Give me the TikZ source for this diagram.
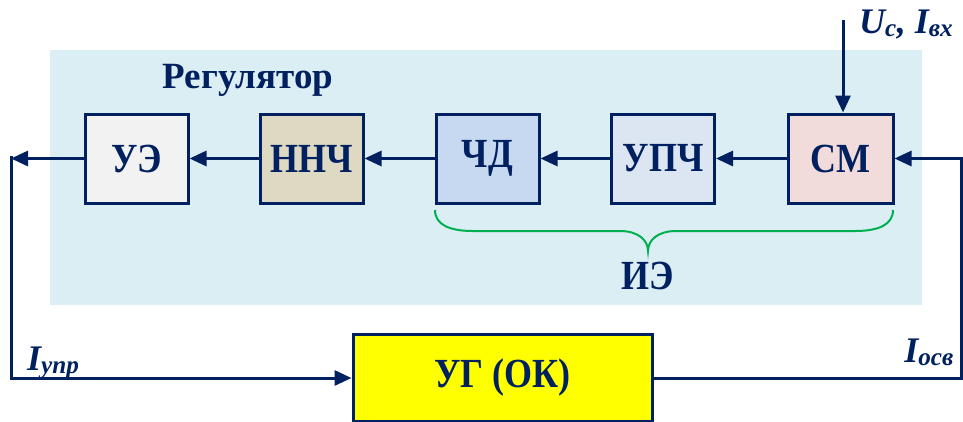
\documentclass[tikz,border=0pt]{standalone}
\usepackage{fontspec}
\usepackage{graphicx}
\setmainfont{Liberation Serif}
\usetikzlibrary{arrows.meta}
\definecolor{navy}{HTML}{002060}
\definecolor{panel}{HTML}{DAEEF3}
\definecolor{fue}{HTML}{F2F2F2}
\definecolor{fnn}{HTML}{DDD9C3}
\definecolor{fchd}{HTML}{C6D9F1}
\definecolor{fupch}{HTML}{DCE6F2}
\definecolor{fsm}{HTML}{F2DCDB}
\definecolor{fug}{HTML}{FFFF00}
\definecolor{brgreen}{HTML}{00B050}
\newcommand\talltxt[1]{\scalebox{1}[1.15]{#1}}
\tikzset{
  blk/.style={draw=navy, line width=3pt, minimum width=103pt, minimum height=89pt, inner sep=0pt,
    text=navy, font=\fontsize{36}{40}\selectfont\bfseries},
  arr/.style={draw=navy, line width=3pt, -{Triangle[length=17pt,width=15pt]}},
  lbl/.style={text=navy, inner sep=0pt, font=\fontsize{36}{40}\selectfont\bfseries\itshape},
}
\begin{document}
\begin{tikzpicture}[x=1pt,y=-1pt]
\useasboundingbox (0,0) rectangle (963,421);
\fill[panel] (50,50) rectangle (922,305);
\node[text=navy, font=\fontsize{37}{40}\selectfont\bfseries] (reg) at (248,80) {Регулятор};
\node[blk, fill=fue] (ue) at (136.5,158.5) {\talltxt{УЭ}};
\node[blk, fill=fnn] (nnch) at (311.5,158.5) {\talltxt{ННЧ}};
\node[blk, fill=fchd] (chd) at (487.5,158.5) {\talltxt{ЧД}};
\node[blk, fill=fupch] (upch) at (663,158.5) {\talltxt{УПЧ}};
\node[blk, fill=fsm, minimum width=105pt] (sm) at (840.5,158.5) {\talltxt{СМ}};
\node[blk, fill=fug, minimum width=299pt, minimum height=87pt] (ug) at (502.5,378) {\talltxt{УГ (ОК)}};
\coordinate (in) at (843,20);
\coordinate (L1) at (11,158.5);
\coordinate (R1) at (961,158.5);
\draw[arr] (in) -- (in |- sm.north);
\draw[arr] (sm) -- (upch);
\draw[arr] (upch) -- (chd);
\draw[arr] (chd) -- (nnch);
\draw[arr] (nnch) -- (ue);
\draw[arr] (ue) -- (L1);
\draw[arr] ([yshift=3pt]L1) |- (ug.west);
\draw[arr] (ug.east) -| (R1) -- (sm.east);
\draw[brgreen, line width=2pt] (435,210) .. controls (435,225) and (450,231) .. (473,231)
  -- (620,231) .. controls (638,231) and (648,240) .. (648,251)
  .. controls (648,240) and (658,231) .. (676,231) -- (855,231)
  .. controls (878,231) and (893,225) .. (893,210);
\node[text=navy, font=\fontsize{36}{40}\selectfont\bfseries] (ie) at (648,276) {\talltxt{ИЭ}};
\node[lbl, anchor=base west] (uc) at (859,33) {U\textsubscript{с}, I\textsubscript{вх}};
\node[lbl, anchor=base west] (iupr) at (27,370) {I\textsubscript{упр}};
\node[lbl, anchor=base east] (iosv) at (954,362) {I\textsubscript{осв}};
\end{tikzpicture}
\end{document}
